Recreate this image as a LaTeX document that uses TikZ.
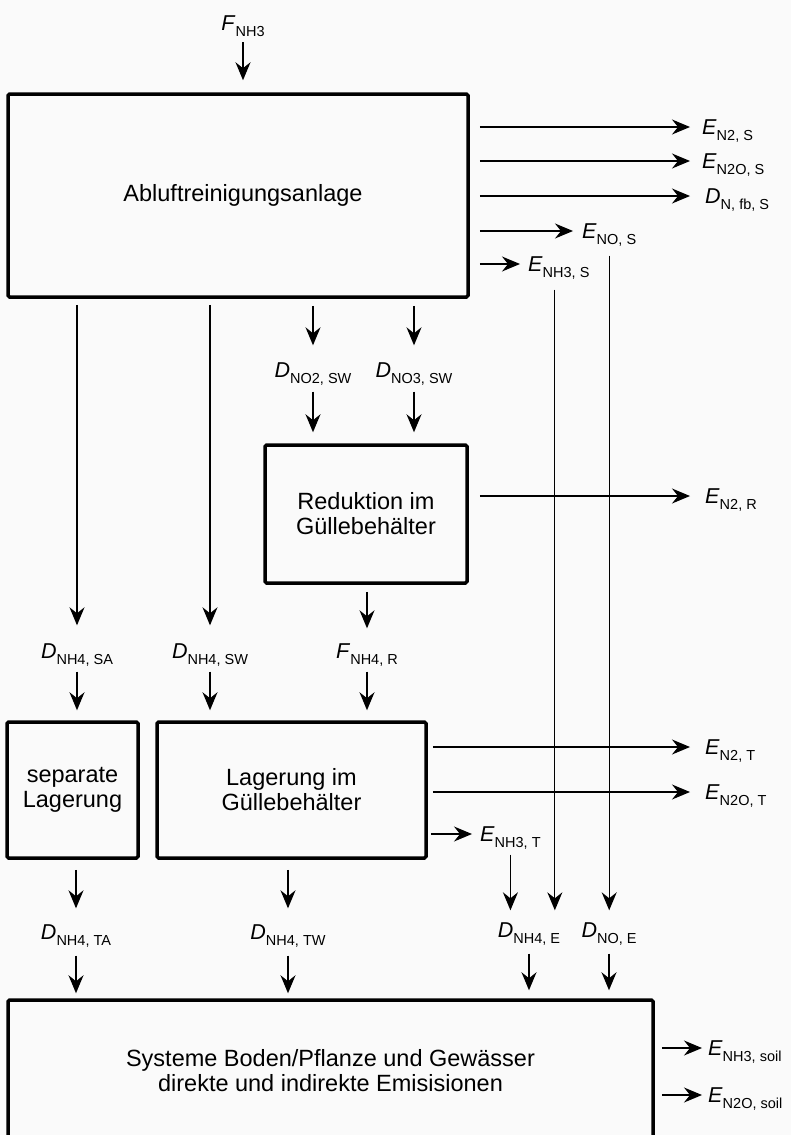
\documentclass[tikz,border=0pt]{standalone}
\usepackage{fontspec}
\setmainfont{Liberation Sans}
\usepackage{tikz}
\usetikzlibrary{arrows.meta}
\newcommand{\lbl}[2]{\textit{#1}\raisebox{-0.3em}{\fontsize{14.5}{14.5}\selectfont #2}}

\begin{document}
\begin{tikzpicture}[x = 1pt, y = -1pt,
          box/.style = {draw, line width = 3.5pt, rounded corners = 1.5pt, align = center,
                        font = \fontsize{23.5}{25}\selectfont},
          quant/.style = {inner sep = 0pt, text height = 15pt, text depth = 0pt,
                          font = \fontsize{21.5}{21.5}\selectfont},
          flow/.style = {line width = 1.3pt, -{Stealth[length = 18pt, width = 15pt, inset = 6pt]}},
          gap/.style 2 args = {shorten <= #1, shorten >= #2}]
          \useasboundingbox[fill = black!2] (0,0) rectangle (791,1135);
          \node[box, minimum width = 460pt, minimum height = 203pt] (abl) at (238,195.5) {\hspace*{10pt}Abluftreinigungsanlage};
          \node[box, minimum width = 202pt, minimum height = 138pt] (red) at (366,514) {Reduktion im\\G\"ullebeh\"alter};
          \node[box, minimum width = 131pt, minimum height = 136pt] (sep) at (72.5,790) {separate\\Lagerung};
          \node[box, minimum width = 269pt, minimum height = 136pt] (lag) at (291.5,790) {Lagerung im\\G\"ullebeh\"alter};
          \node[box, minimum width = 645pt, minimum height = 142pt] (sys) at (330.5,1071) {Systeme Boden/Pflanze und Gew\"asser\\direkte und indirekte Emisisionen};
          \node[quant] (fNHthree) at (243,22.5) {\lbl{F}{NH3}};
          \node[quant, anchor = west] (eNtwoS) at (702,127) {\lbl{E}{N2, S}};
          \node[quant, anchor = west] (eNtwoOS) at (702,161) {\lbl{E}{N2O, S}};
          \node[quant, anchor = west] (dNfbS) at (705,196) {\lbl{D}{N, fb, S}};
          \node[quant, anchor = west] (eNOS) at (582,231) {\lbl{E}{NO, S}};
          \node[quant, anchor = west] (eNHthreeS) at (528,264) {\lbl{E}{NH3, S}};
          \node[quant] (dNOtwoSW) at (313,370) {\lbl{D}{NO2, SW}};
          \node[quant] (dNOthreeSW) at (414,370) {\lbl{D}{NO3, SW}};
          \node[quant, anchor = west] (eNtwoR) at (705,496) {\lbl{E}{N2, R}};
          \node[quant] (dNHfourSA) at (77,651) {\lbl{D}{NH4, SA}};
          \node[quant] (dNHfourSW) at (210,651) {\lbl{D}{NH4, SW}};
          \node[quant] (fNHfourR) at (367,651) {\lbl{F}{NH4, R}};
          \node[quant, anchor = west] (eNtwoT) at (705,747) {\lbl{E}{N2, T}};
          \node[quant, anchor = west] (eNtwoOT) at (705,792) {\lbl{E}{N2O, T}};
          \node[quant, anchor = west] (eNHthreeT) at (480,834) {\lbl{E}{NH3, T}};
          \node[quant] (dNHfourTA) at (76,932) {\lbl{D}{NH4, TA}};
          \node[quant] (dNHfourTW) at (288,932) {\lbl{D}{NH4, TW}};
          \node[quant] (dNHfourE) at (529,930) {\lbl{D}{NH4, E}};
          \node[quant] (dNOE) at (609,930) {\lbl{D}{NO, E}};
          \node[quant, anchor = west] (eNHthreeSoil) at (708,1048) {\lbl{E}{NH3, soil}};
          \node[quant, anchor = west] (eNtwoOSoil) at (708,1095) {\lbl{E}{N2O, soil}};
          \draw[flow, gap = {12pt}{12pt}] (fNHthree.south) -- (fNHthree.south |- abl.north);
          \draw[flow, gap = {10pt}{12pt}] (abl.east |- eNtwoS) -- (eNtwoS.west);
          \draw[flow, gap = {10pt}{12pt}] (abl.east |- eNtwoOS) -- (eNtwoOS.west);
          \draw[flow, gap = {10pt}{15pt}] (abl.east |- dNfbS) -- (dNfbS.west);
          \draw[flow, gap = {10pt}{9pt}] (abl.east |- eNOS) -- (eNOS.west);
          \draw[flow, gap = {10pt}{8pt}] (abl.east |- eNHthreeS) -- (eNHthreeS.west);
          \draw[flow, gap = {6pt}{18pt}] (abl.south -| dNHfourSA) -- (dNHfourSA.north);
          \draw[flow, gap = {6pt}{18pt}] (abl.south -| dNHfourSW) -- (dNHfourSW.north);
          \draw[flow, gap = {7pt}{17pt}] (abl.south -| dNOtwoSW) -- (dNOtwoSW.north);
          \draw[flow, gap = {7pt}{17pt}] (abl.south -| dNOthreeSW) -- (dNOthreeSW.north);
          \draw[flow, gap = {14pt}{11pt}] (dNOtwoSW.south) -- (dNOtwoSW.south |- red.north);
          \draw[flow, gap = {14pt}{11pt}] (dNOthreeSW.south) -- (dNOthreeSW.south |- red.north);
          \draw[flow, gap = {11pt}{15pt}] (red.east |- eNtwoR) -- (eNtwoR.west);
          \draw[flow, gap = {7pt}{15pt}] (red.south -| fNHfourR) -- (fNHfourR.north);
          \draw[flow, gap = {13pt}{10pt}] (dNHfourSA.south) -- (dNHfourSA.south |- sep.north);
          \draw[flow, gap = {13pt}{10pt}] (dNHfourSW.south) -- (dNHfourSW.south |- lag.north);
          \draw[flow, gap = {13pt}{10pt}] (fNHfourR.south) -- (fNHfourR.south |- lag.north);
          \draw[flow, gap = {5pt}{15pt}] (lag.east |- eNtwoT) -- (eNtwoT.west);
          \draw[flow, gap = {5pt}{15pt}] (lag.east |- eNtwoOT) -- (eNtwoOT.west);
          \draw[flow, gap = {3pt}{8pt}] (lag.east |- eNHthreeT) -- (eNHthreeT.west);
          \draw[flow, gap = {10pt}{16pt}] (sep.south -| dNHfourTA) -- (dNHfourTA.north);
          \draw[flow, gap = {10pt}{16pt}] (lag.south -| dNHfourTW) -- (dNHfourTW.north);
          \draw[flow, gap = {18pt}{12pt}] ([xshift = -4pt]eNHthreeS.south) -- ([xshift = -4pt]eNHthreeS.south |- dNHfourE.north);
          \draw[flow, gap = {17pt}{12pt}] (eNOS.south) -- (eNOS.south |- dNOE.north);
          \draw[flow, gap = {13pt}{12pt}] (eNHthreeT.south) -- (eNHthreeT.south |- dNHfourE.north);
          \draw[flow, gap = {16pt}{5pt}] (dNHfourTA.south) -- (dNHfourTA.south |- sys.north);
          \draw[flow, gap = {16pt}{5pt}] (dNHfourTW.south) -- (dNHfourTW.south |- sys.north);
          \draw[flow, gap = {16pt}{8pt}] (dNHfourE.south) -- (dNHfourE.south |- sys.north);
          \draw[flow, gap = {16pt}{8pt}] (dNOE.south) -- (dNOE.south |- sys.north);
          \draw[flow, gap = {7pt}{6pt}] (sys.east |- eNHthreeSoil) -- (eNHthreeSoil.west);
          \draw[flow, gap = {7pt}{6pt}] (sys.east |- eNtwoOSoil) -- (eNtwoOSoil.west);
        \end{tikzpicture}
\end{document}
